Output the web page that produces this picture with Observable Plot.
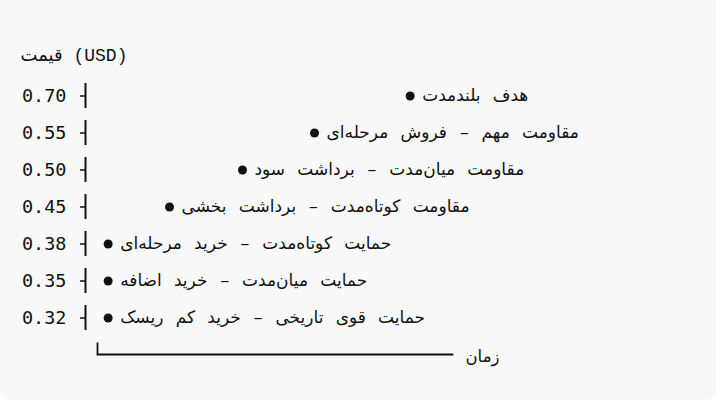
<!DOCTYPE html>
<html>
<head>
<meta charset="utf-8">
<script src="https://cdn.jsdelivr.net/npm/d3@7"></script>
<script src="https://cdn.jsdelivr.net/npm/@observablehq/plot@0.6"></script>
<style>
  html, body { margin: 0; padding: 0; background: #ffffff; }
  #wrap { width: 716px; height: 400px; background: #f8f8f8; border-radius: 0 0 12px 12px; overflow: hidden; }
  #wrap svg { display: block; background: transparent; }
  .lbl text { word-spacing: 2px; }
</style>
</head>
<body>
<div id="wrap"></div>
<script>
// Data
const title = "قیمت (USD)";
const xLabel = "زمان";
const prices = ["0.70", "0.55", "0.50", "0.45", "0.38", "0.35", "0.32"];
const times = [27.3, 18.95, 12.66, 6.29, 0.93, 0.93, 0.93];
const labels = [
  "هدف بلندمدت",
  "مقاومت مهم – فروش مرحله‌ای",
  "مقاومت میان‌مدت – برداشت سود",
  "مقاومت کوتاه‌مدت – برداشت بخشی",
  "حمایت کوتاه‌مدت – خرید مرحله‌ای",
  "حمایت میان‌مدت – خرید اضافه",
  "حمایت قوی تاریخی – خرید کم ریسک"
];
const xDomain = [0, 31];

const rows = prices.map((p, i) => ({price: p, time: times[i], label: labels[i]}));

const mono = "'DejaVu Sans Mono', monospace";
const mixed = "'Liberation Mono', 'DejaVu Sans', sans-serif";
const ink = "#111";

const chart = Plot.plot({
  width: 716,
  height: 400,
  marginLeft: 97,
  marginRight: 264,
  marginTop: 75.5,
  marginBottom: 46,
  style: {fontFamily: mono, fontSize: "18px", color: ink, background: "transparent"},
  x: {domain: xDomain, axis: null},
  y: {domain: prices, type: "band", padding: 0, insetBottom: 16.5, axis: null},
  marks: [
    // y axis: tick labels and small ticks
    Plot.axisY({anchor: "left", tickSize: 5, tickPadding: 14, dx: -12, fontSize: 18.5, fontFamily: mono, stroke: ink, strokeWidth: 1.5, fill: ink, label: null}),
    // y axis: vertical segment per row (the ┤ glyph)
    Plot.ruleX(rows, {x: () => xDomain[0], y1: "price", y2: "price", dx: -12, insetTop: 6, insetBottom: 6, stroke: ink, strokeWidth: 2}),
    // x axis baseline (└────)
    Plot.frame({anchor: "bottom", stroke: ink, strokeWidth: 1.8}),
    Plot.ruleX([xDomain[0]], {x: d => d, insetTop: 267, stroke: ink, strokeWidth: 1.8}),
    // points
    Plot.dot(rows, {x: "time", y: "price", r: 4.5, fill: ink, stroke: null}),
    Plot.text(rows, {x: "time", y: "price", text: "label", dx: 12, textAnchor: "start", fontSize: 17, fill: ink, fontFamily: mixed, className: "lbl"}),
    // title and x label
    Plot.text([title], {frameAnchor: "top-left", lineAnchor: "middle", dx: -77, dy: -20.5, textAnchor: "start", fontSize: 18, fill: ink, fontFamily: mixed}),
    Plot.text([xLabel], {frameAnchor: "bottom-right", lineAnchor: "middle", dx: 13, dy: 2, textAnchor: "start", fontSize: 16.5, fill: ink, fontFamily: mixed})
  ]
});

document.getElementById("wrap").appendChild(chart);
</script>
</body>
</html>
